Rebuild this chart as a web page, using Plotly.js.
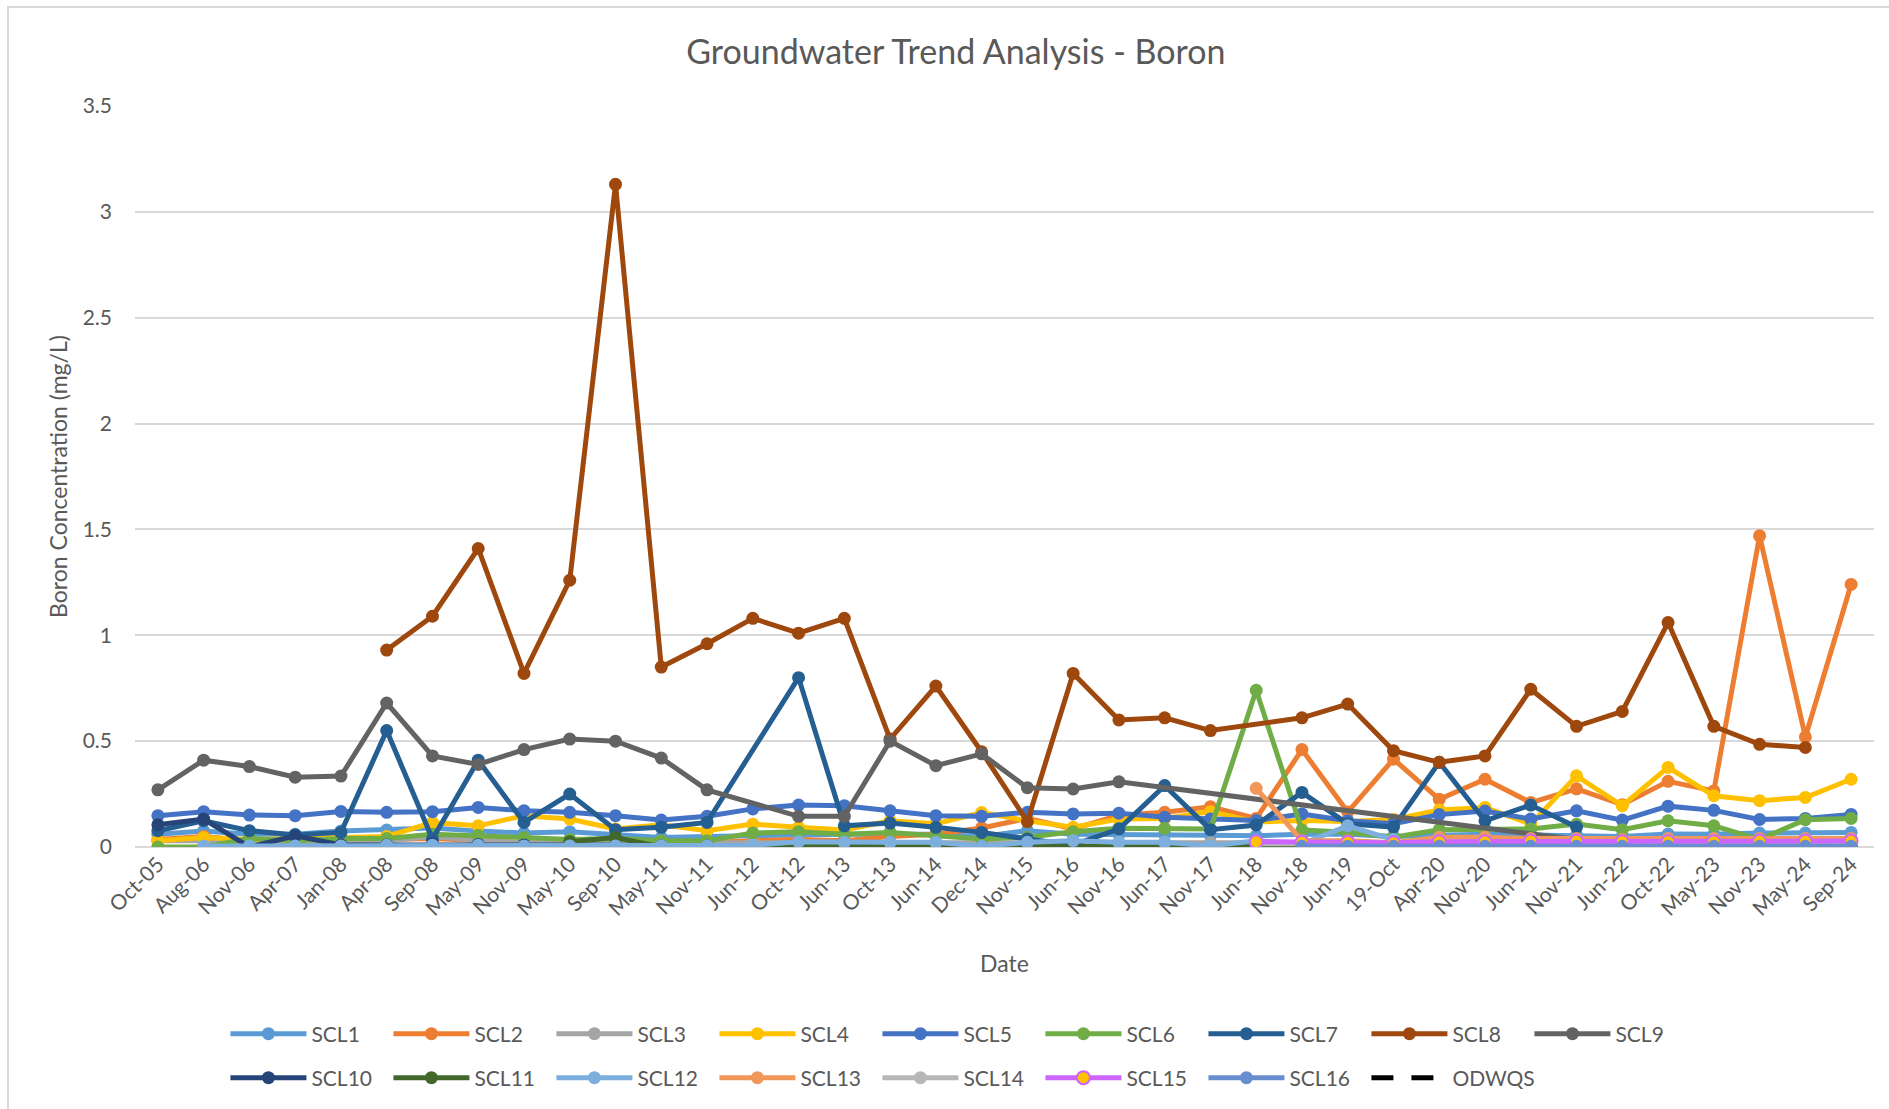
<!DOCTYPE html>
<html>
<head>
<meta charset="utf-8">
<script src="https://cdn.plot.ly/plotly-3.0.1.min.js"></script>
<style>
  html, body { margin: 0; padding: 0; background: #ffffff; overflow: hidden; }
  #frame { position: absolute; left: 7px; top: 6px; width: 1882px; height: 1103px;
           border-left: 2px solid #D9D9D9; border-top: 2px solid #D9D9D9; box-sizing: border-box; pointer-events: none; }
  #chart { position: absolute; left: 0; top: 0; width: 1889px; height: 1109px; }
</style>
</head>
<body>
<div id="chart"></div>
<div id="frame"></div>
<script>
const categories = ["Oct-05","Aug-06","Nov-06","Apr-07","Jan-08","Apr-08","Sep-08","May-09","Nov-09","May-10",
  "Sep-10","May-11","Nov-11","Jun-12","Oct-12","Jun-13","Oct-13","Jun-14","Dec-14","Nov-15",
  "Jun-16","Nov-16","Jun-17","Nov-17","Jun-18","Nov-18","Jun-19","19-Oct","Apr-20","Nov-20",
  "Jun-21","Nov-21","Jun-22","Oct-22","May-23","Nov-23","May-24","Sep-24"];

const SCL1 = [0.06,0.075,0.06,0.06,0.075,0.08,0.09,0.075,0.066,0.072,0.06,0.045,0.05,0.055,0.06,0.06,0.06,0.06,0.05,0.077,
  0.06,0.06,0.06,0.055,0.053,0.06,0.06,0.05,0.055,0.06,0.057,0.055,0.05,0.061,0.06,0.066,0.066,0.069];
const SCL2 = [0.035,0.05,0.03,0.03,0.035,0.035,0.04,0.03,0.02,0.02,0.03,0.02,0.02,0.03,0.035,0.03,0.05,0.06,0.09,0.135,
  0.085,0.15,0.164,0.19,0.135,0.46,0.165,0.415,0.225,0.32,0.21,0.275,0.2,0.31,0.265,1.47,0.52,1.24];
const SCL3 = [0.03,0.03,0.02,0.02,0.03,0.03,0.05,0.03,0.02,0.02,0.02,0.02,0.02,0.02,0.02,0.02,0.02,0.02,0.02,0.02,
  0.02,0.02,0.02,0.02,0.02,0.02,0.02,0.02,0.02,0.02,0.02,0.02,0.02,0.02,0.02,0.02,0.02,0.02];
const SCL4 = [0.03,0.045,0.035,0.04,0.04,0.05,0.115,0.10,0.148,0.132,0.085,0.105,0.077,0.108,0.093,0.08,0.124,0.11,0.163,0.124,
  0.093,0.132,0.135,0.167,0.118,0.125,0.12,0.13,0.175,0.187,0.108,0.336,0.195,0.376,0.242,0.219,0.234,0.32];
const SCL5 = [0.148,0.167,0.151,0.148,0.168,0.164,0.167,0.187,0.171,0.164,0.148,0.127,0.145,0.18,0.198,0.195,0.171,0.148,0.145,0.164,
  0.156,0.16,0.14,0.132,0.125,0.156,0.124,0.11,0.153,0.17,0.132,0.171,0.127,0.193,0.173,0.13,0.135,0.154];
const SCL6 = [0.0,0.0,0.04,0.03,0.04,0.04,0.06,0.055,0.045,0.035,0.04,0.03,0.03,0.066,0.072,0.06,0.069,0.053,0.038,0.046,
  0.072,0.088,0.088,0.085,0.74,0.08,0.07,0.046,0.082,0.085,0.085,0.108,0.082,0.124,0.10,0.035,0.129,0.135];
const SCL7 = [0.077,0.124,0.077,0.057,0.069,0.55,0.038,0.41,0.116,0.25,0.082,0.093,0.116,null,0.80,0.10,0.113,0.093,0.069,0.038,
  0.01,0.085,0.29,0.082,0.104,0.258,0.11,0.094,0.40,0.124,0.198,0.094,null,null,null,null,null,null];
const SCL8 = [null,null,null,null,null,0.93,1.09,1.41,0.82,1.26,3.13,0.85,0.96,1.08,1.01,1.08,0.51,0.76,0.45,0.12,
  0.82,0.60,0.61,0.55,null,0.61,0.675,0.455,0.40,0.43,0.745,0.57,0.64,1.06,0.57,0.485,0.47,null];
const SCL9 = [0.27,0.41,0.38,0.33,0.335,0.68,0.43,0.39,0.46,0.51,0.50,0.42,0.27,null,0.145,0.145,0.50,0.384,0.44,0.28,
  0.274,0.308,null,null,null,null,null,null,null,null,null,0.035,null,null,null,null,null,null];
const SCL10 = [0.105,0.132,0.0,0.053,0.01,0.01,0.015,0.012,0.01,0.01,0.008,0.005,0.005,0.0,0.0,0.0,0.0,0.0,0.0,0.0,
  0.0,0.0,0.0,0.0,0.0,0.0,0.0,0.0,0.0,0.0,0.0,0.0,0.0,0.0,0.0,0.0,0.0,0.0];
const SCL11 = [null,null,null,null,null,null,null,null,null,0.025,0.045,0.0,0.002,0.002,0.002,0.002,0.002,0.002,0.002,0.002,
  0.002,0.002,0.002,0.002,0.002,0.002,0.002,0.002,0.002,0.002,0.002,0.002,0.002,0.002,0.002,0.002,0.002,0.002];
const SCL12 = [null,0.005,0.005,0.005,0.005,0.008,0.008,0.008,0.005,0.005,0.005,0.005,0.005,0.008,0.025,0.022,0.022,0.022,0.003,0.022,
  0.03,0.022,0.022,0.005,0.03,0.015,0.10,0.035,null,null,null,null,null,null,null,null,null,null];
const SCL13 = [null,null,null,null,null,null,null,null,null,null,null,null,null,null,null,null,null,null,null,null,
  null,null,null,null,0.277,0.03,0.03,0.02,0.046,0.046,0.04,0.04,0.035,0.04,0.04,0.04,0.04,0.04];
const SCL14 = [null,null,null,null,null,null,null,null,null,null,null,null,null,null,null,null,null,null,null,null,
  null,null,null,null,0.015,0.015,0.015,0.015,0.015,0.015,0.015,0.015,0.015,0.015,0.015,0.015,0.015,0.015];
const SCL15 = [null,null,null,null,null,null,null,null,null,null,null,null,null,null,null,null,null,null,null,null,
  null,null,null,null,0.025,0.022,0.022,0.02,0.025,0.025,0.028,0.028,0.025,0.025,0.025,0.028,0.028,0.028];
const SCL16 = [null,null,null,null,null,null,null,null,null,null,null,null,null,null,null,null,null,null,null,null,
  null,null,null,null,null,0.003,0.003,0.003,0.003,0.003,0.003,0.003,0.003,0.003,0.003,0.003,0.003,0.003];
const ODWQS = categories.map(() => 5);

const yTicks = [0, 0.5, 1, 1.5, 2, 2.5, 3, 3.5];
const yTickText = ["0", "0.5", "1", "1.5", "2", "2.5", "3", "3.5"];

const seriesList = [
  {name: "SCL1", y: SCL1, color: "#5B9BD5"},
  {name: "SCL2", y: SCL2, color: "#ED7D31"},
  {name: "SCL3", y: SCL3, color: "#A5A5A5"},
  {name: "SCL4", y: SCL4, color: "#FFC000"},
  {name: "SCL5", y: SCL5, color: "#4472C4"},
  {name: "SCL6", y: SCL6, color: "#70AD47"},
  {name: "SCL7", y: SCL7, color: "#255E91"},
  {name: "SCL8", y: SCL8, color: "#9E480E"},
  {name: "SCL9", y: SCL9, color: "#636363"},
  {name: "SCL10", y: SCL10, color: "#264478"},
  {name: "SCL11", y: SCL11, color: "#43682B"},
  {name: "SCL12", y: SCL12, color: "#7CAFDD"},
  {name: "SCL13", y: SCL13, color: "#F1975A"},
  {name: "SCL14", y: SCL14, color: "#B7B7B7"},
  {name: "SCL15", y: SCL15, color: "#CC66FF", markerColor: "#FFC000"},
  {name: "SCL16", y: SCL16, color: "#698ED0"}
];

const traces = seriesList.map((s, i) => ({
  type: "scatter",
  mode: "lines+markers",
  name: s.name,
  x: categories,
  y: s.y,
  connectgaps: true,
  legend: i < 9 ? "legend" : "legend2",
  line: {color: s.color, width: 5},
  marker: {color: s.markerColor || s.color, size: 13, symbol: "circle",
           line: {color: s.color, width: s.markerColor ? 2 : 0}},
  hoverinfo: "x+y+name"
}));
traces.push({
  type: "scatter",
  mode: "lines",
  name: "ODWQS",
  x: categories,
  y: ODWQS,
  legend: "legend2",
  legendwidth: 110,
  line: {color: "#000000", width: 5, dash: "22px,18px"},
  hoverinfo: "x+y+name"
});

const fontFam = "Lato, 'Open Sans', sans-serif";
const txtColor = "#595959";

const legendCommon = {
  orientation: "h",
  xanchor: "left",
  yanchor: "middle",
  x: 0.052,
  bgcolor: "rgba(0,0,0,0)",
  font: {family: fontFam, size: 21, color: txtColor},
  itemwidth: 76,
  entrywidth: 72,
  entrywidthmode: "pixels",
  traceorder: "normal",
  itemclick: false,
  itemdoubleclick: false
};

const layout = {
  width: 1889,
  height: 1109,
  paper_bgcolor: "#ffffff",
  plot_bgcolor: "#ffffff",
  margin: {l: 135, r: 15, t: 106, b: 261, pad: 0},
  font: {family: fontFam, color: txtColor},
  title: {
    text: "Groundwater Trend Analysis - Boron",
    font: {family: fontFam, size: 34, color: txtColor},
    xref: "container", x: 0.506, xanchor: "center",
    yref: "container", y: 1 - 52 / 1109, yanchor: "middle"
  },
  xaxis: {
    type: "category",
    categoryorder: "array",
    categoryarray: categories,
    range: [-0.5, categories.length - 0.5],
    tickangle: -45,
    showgrid: false,
    showline: false,
    zeroline: false,
    ticks: "",
    tickfont: {family: fontFam, size: 21, color: txtColor},
    automargin: false,
    title: {text: "Date", font: {family: fontFam, size: 23, color: txtColor}, standoff: 36}
  },
  yaxis: {
    range: [0, 3.5],
    tickmode: "array",
    tickvals: yTicks,
    ticktext: yTickText,
    showgrid: true,
    gridcolor: "#D9D9D9",
    gridwidth: 1.5,
    zeroline: true,
    zerolinecolor: "#D9D9D9",
    zerolinewidth: 1.5,
    showline: false,
    ticks: "",
    ticklabelstandoff: 22,
    tickfont: {family: fontFam, size: 21, color: txtColor},
    automargin: false,
    title: {text: "Boron Concentration (mg/L)", font: {family: fontFam, size: 23, color: txtColor}, standoff: 8}
  },
  legend: Object.assign({}, legendCommon, {y: (848 - 1034) / 742}),
  legend2: Object.assign({}, legendCommon, {y: (848 - 1078) / 742}),
  showlegend: true,
  hovermode: "closest"
};

Plotly.newPlot("chart", traces, layout, {displayModeBar: false, staticPlot: false, responsive: false});
</script>
</body>
</html>
